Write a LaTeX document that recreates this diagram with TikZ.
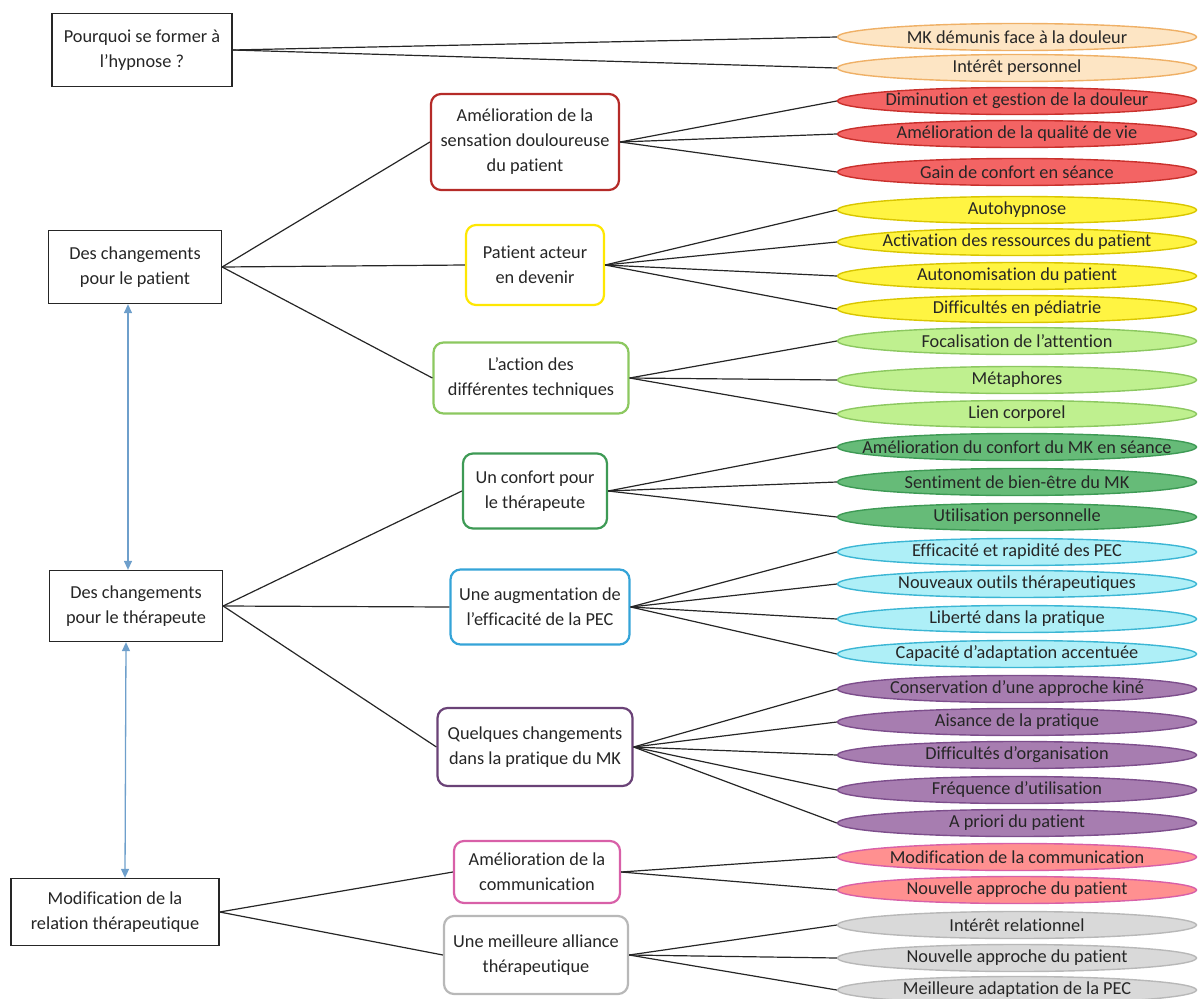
\documentclass[tikz,border=0pt]{standalone}
\usepackage{fontspec}
\setmainfont[Ligatures=NoCommon]{Carlito}
\usetikzlibrary{shapes.geometric, arrows.meta}

% colours of the themes
\definecolor{hypFill}{HTML}{FDE5C4}   \definecolor{hypLine}{HTML}{EFB066}
\definecolor{painFill}{HTML}{F36464}  \definecolor{painLine}{HTML}{C9302C}
\definecolor{actFill}{HTML}{FFF442}   \definecolor{actLine}{HTML}{D9C600}
\definecolor{techFill}{HTML}{BFF08F}  \definecolor{techLine}{HTML}{8CC860}
\definecolor{comfFill}{HTML}{66BB78}  \definecolor{comfLine}{HTML}{3E9A55}
\definecolor{effFill}{HTML}{AEEFF7}   \definecolor{effLine}{HTML}{3BB6D4}
\definecolor{pracFill}{HTML}{A77DB0}  \definecolor{pracLine}{HTML}{7D4E8C}
\definecolor{commFill}{HTML}{FF9090}  \definecolor{commLine}{HTML}{D860A8}
\definecolor{allFill}{HTML}{D9D9D9}   \definecolor{allLine}{HTML}{B8B8B8}
\definecolor{arrowBlue}{HTML}{6E9FCB}

\tikzset{
    topic/.style={draw=black!85, line width=1.3pt, fill=white, align=center, inner sep=0pt},
    theme/.style={draw=#1, line width=2.2pt, rounded corners=10pt, fill=white, align=center, inner sep=0pt},
    leaf/.style 2 args={ellipse, draw=#1, fill=#2, line width=1.4pt, minimum width=359, minimum height=27, inner sep=0pt},
    branch/.style={black!85, line width=1.2pt},
    link/.style={<->, arrowBlue, line width=1.3pt}
}

\begin{document}
\begin{tikzpicture}[x=1pt, y=-1pt, >={Triangle[length=9pt, width=8pt]},
                    font=\fontsize{18.3}{25}\selectfont, text=black!85]
    \useasboundingbox (0,0) rectangle (1200,999);

    % Left column
    \node[topic, minimum width=180, minimum height=73] (Question) at (142,50) {Pourquoi se former à\\l’hypnose ?};
    \node[topic, minimum width=173, minimum height=73] (Patient) at (135,267) {Des changements\\pour le patient};
    \node[topic, minimum width=173, minimum height=71] (Therap) at (136,606) {Des changements\\pour le thérapeute};
    \node[topic, minimum width=208, minimum height=67] (Relation) at (115,912) {Modification de la\\relation thérapeutique};

    % Middle column
    \node[theme=painLine!90!black, minimum width=188, minimum height=96] (Pain) at (525,142) {Amélioration de la\\sensation douloureuse\\du patient};
    \node[theme=yellow!90!orange, minimum width=138, minimum height=80] (Actor) at (535,265) {Patient acteur\\en devenir};
    \node[theme=techLine, minimum width=195, minimum height=71] (Tech) at (531,378) {L’action des\\différentes techniques};
    \node[theme=comfLine, minimum width=144, minimum height=75] (Comfort) at (535,491) {Un confort pour\\le thérapeute};
    \node[theme=effLine!90!blue, minimum width=179, minimum height=75] (Effic) at (540,607) {Une augmentation de\\l’efficacité de la PEC};
    \node[theme=pracLine!85!black, minimum width=195, minimum height=78] (Practice) at (535,747) {Quelques changements\\dans la pratique du MK};
    \node[theme=commLine, minimum width=166, minimum height=62] (Comm) at (537,872) {Amélioration de la\\communication};
    \node[theme=allLine, minimum width=184, minimum height=78] (Alliance) at (536,955) {Une meilleure alliance\\thérapeutique};

    % Right column
    \foreach \i/\y/\t in {1/37/MK démunis face à la douleur, 2/68/Intérêt personnel}
        \node[leaf={hypLine}{hypFill}] (Leaf-\i) at (1017,\y) {\makebox[0pt]{\t}};
    \foreach \i/\y/\t in {3/101/Diminution et gestion de la douleur, 4/134/Amélioration de la qualité de vie,
                          5/172/Gain de confort en séance}
        \node[leaf={painLine}{painFill}] (Leaf-\i) at (1017,\y) {\makebox[0pt]{\t}};
    \foreach \i/\y/\t in {6/210/Autohypnose, 7/242/Activation des ressources du patient,
                          8/276/Autonomisation du patient, 9/309/Difficultés en pédiatrie}
        \node[leaf={actLine}{actFill}] (Leaf-\i) at (1017,\y) {\makebox[0pt]{\t}};
    \foreach \i/\y/\t in {10/341/Focalisation de l’attention, 11/380/Métaphores, 12/414/Lien corporel}
        \node[leaf={techLine}{techFill}] (Leaf-\i) at (1017,\y) {\makebox[0pt]{\t}};
    \foreach \i/\y/\t in {13/447/Amélioration du confort du MK en séance, 14/482/Sentiment de bien-être du MK,
                          15/517/Utilisation personnelle}
        \node[leaf={comfLine}{comfFill}] (Leaf-\i) at (1017,\y) {\makebox[0pt]{\t}};
    \foreach \i/\y/\t in {16/552/Efficacité et rapidité des PEC, 17/584/Nouveaux outils thérapeutiques,
                          18/619/Liberté dans la pratique, 19/654/Capacité d’adaptation accentuée}
        \node[leaf={effLine}{effFill}] (Leaf-\i) at (1017,\y) {\makebox[0pt]{\t}};
    \foreach \i/\y/\t in {20/689/Conservation d’une approche kiné, 21/722/Aisance de la pratique,
                          22/755/Difficultés d’organisation, 23/790/Fréquence d’utilisation, 24/823/A priori du patient}
        \node[leaf={pracLine}{pracFill}] (Leaf-\i) at (1017,\y) {\makebox[0pt]{\t}};
    \foreach \i/\y/\t in {25/857/Modification de la communication, 26/890/Nouvelle approche du patient}
        \node[leaf={commLine}{commFill}] (Leaf-\i) at (1017,\y) {\makebox[0pt]{\t}};
    \foreach \i/\y/\t in {27/925/Intérêt relationnel, 28/958/Nouvelle approche du patient,
                          29/990/Meilleure adaptation de la PEC}
        \node[leaf={allLine}{allFill}] (Leaf-\i) at (1017,\y) {\makebox[0pt]{\t}};

    % Left column to middle column
    \foreach \m in {Pain, Actor, Tech}
        \draw[branch] (Patient.east) -- (\m.west);
    \foreach \m in {Comfort, Effic, Practice}
        \draw[branch] (Therap.east) -- (\m.west);
    \foreach \m in {Comm, Alliance}
        \draw[branch] (Relation.east) -- (\m.west);

    % Middle column to leaves
    \foreach \i in {1,2}
        \draw[branch] (Question.east) -- (Leaf-\i.west);
    \foreach \s/\a/\b in {Pain/3/5, Actor/6/9, Tech/10/12, Comfort/13/15, Effic/16/19,
                          Practice/20/24, Comm/25/26, Alliance/27/29}
    {
        \foreach \i in {\a,...,\b}
            \draw[branch] (\s.east) -- (Leaf-\i.west);
    }

    % Links between the left boxes
    \draw[link] ([xshift=-7pt]Patient.south) -- ([xshift=-8pt]Therap.north);
    \draw[link] ([xshift=-10pt]Therap.south) -- ([xshift=10pt]Relation.north);
\end{tikzpicture}
\end{document}
